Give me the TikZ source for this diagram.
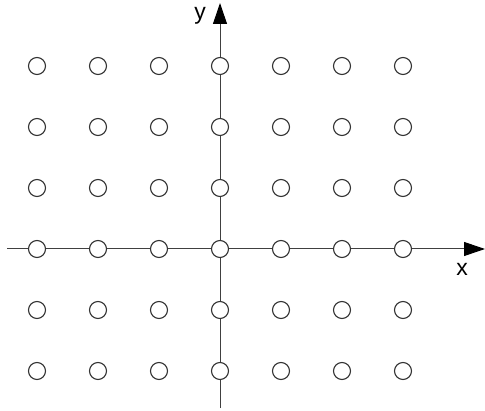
\documentclass[tikz,border=0pt]{standalone}
\usepackage{fontspec}
\setmainfont{Liberation Sans}
\usetikzlibrary{arrows.meta}
\begin{document}
\begin{tikzpicture}[x=1pt,y=1pt,
  axis/.style={draw=black!75, line width=1pt,
    -{Triangle[length=21pt,width=14pt,color=black]}},
  site/.style={circle, draw=black!80, fill=white, line width=1.1pt,
    minimum size=17pt, inner sep=0pt},
  axislabel/.style={font=\fontsize{23}{26}\selectfont, inner sep=0pt}]
\useasboundingbox (0,0) rectangle (485,410);
% axes
\coordinate (xstart) at (7,161);
\coordinate (xend) at (485,161);
\coordinate (ystart) at (220,2);
\coordinate (yend) at (220,407);
\draw[axis] (xstart) -- (xend);
\draw[axis] (ystart) -- (yend);
\node[axislabel] (ylabel) at (200,394) {y};
\node[axislabel] (xlabel) at (462,141) {x};
% lattice of sites
\foreach \i in {0,...,6} {
  \foreach \j in {0,...,5} {
    \node[site] (p-\i-\j) at ({37+61*\i},{344-61*\j}) {};
  }
}
\end{tikzpicture}
\end{document}
